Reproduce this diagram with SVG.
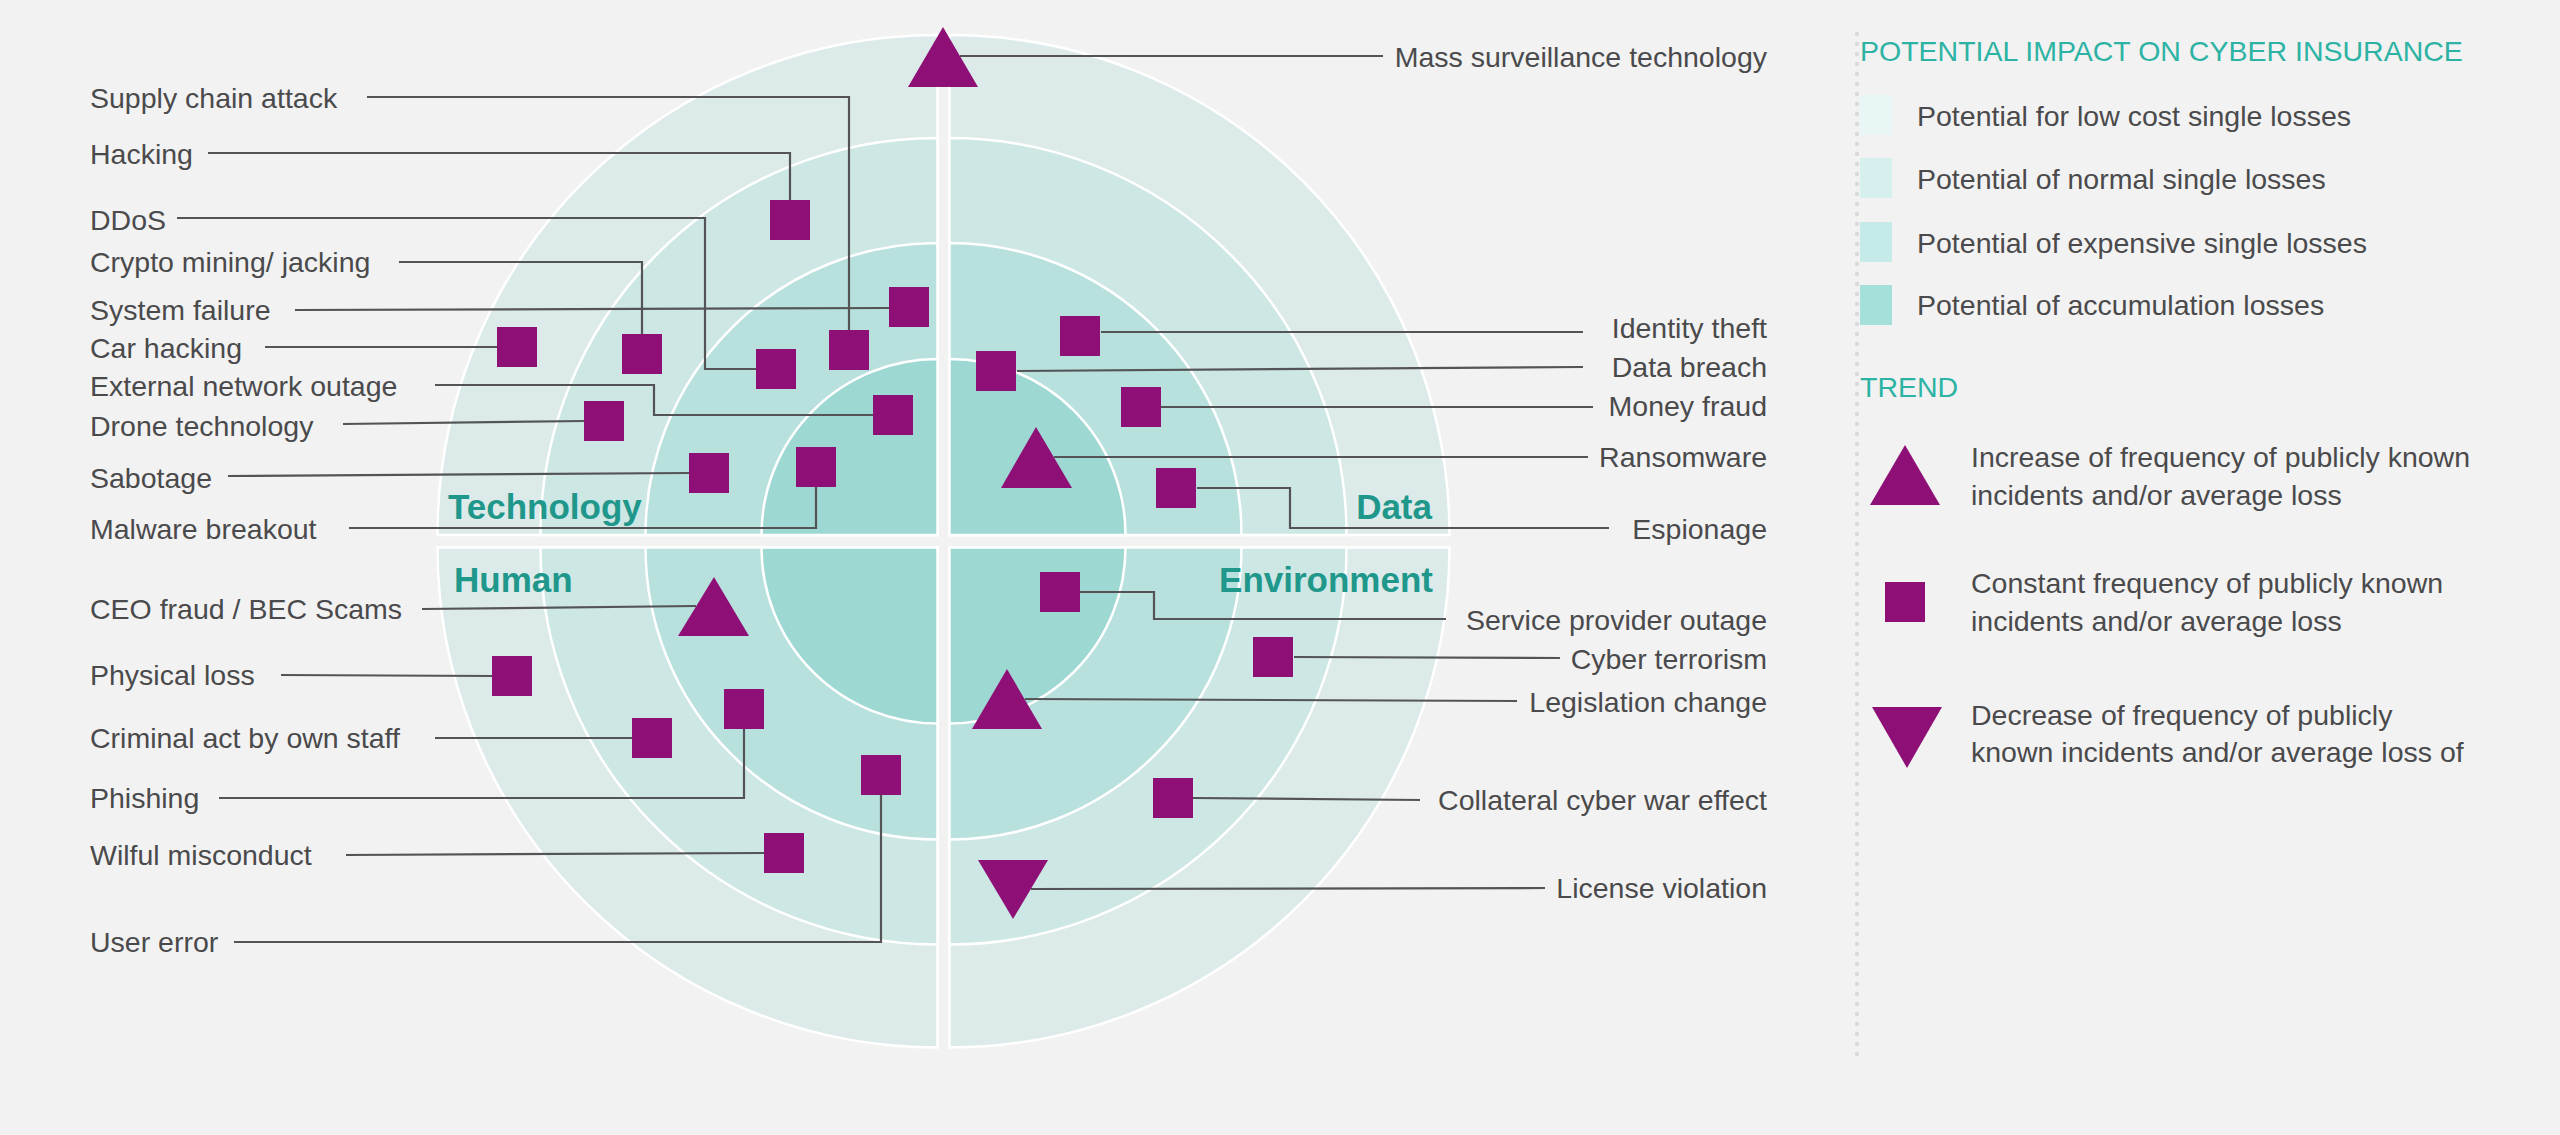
<svg xmlns="http://www.w3.org/2000/svg" width="2560" height="1135" viewBox="0 0 2560 1135">
<style>
.bg{fill:#f2f2f2}
.q{stroke:#ffffff;stroke-width:2.5}
.r1{fill:#dcebea}.r2{fill:#cde7e5}.r3{fill:#b8e1de}.r4{fill:#9dd8d3}
.mk{fill:#8e1077}
.cn{fill:none;stroke:#545456;stroke-width:2.2}
.lb{font-family:"Liberation Sans",Arial,Helvetica,sans-serif;font-size:28.5px;fill:#4a4a4c}
.end{text-anchor:end}
.cat{font-family:"Liberation Sans",Arial,Helvetica,sans-serif;font-size:35px;font-weight:bold;fill:#1f978b}
.hd{font-family:"Liberation Sans",Arial,Helvetica,sans-serif;font-size:28.5px;fill:#2db3a4}
</style>
<rect class="bg" x="0" y="0" width="2560" height="1135"/>
<g id="chart">
<path class="q r1" d="M937.5,535 H437.5 A500,500 0 0 1 937.5,35 Z"/>
<path class="q r2" d="M937.5,535 H540.5 A397,397 0 0 1 937.5,138 Z"/>
<path class="q r3" d="M937.5,535 H645.5 A292,292 0 0 1 937.5,243 Z"/>
<path class="q r4" d="M937.5,535 H761.5 A176,176 0 0 1 937.5,359 Z"/>
<path class="q r1" d="M949.5,535 V35 A500,500 0 0 1 1449.5,535 Z"/>
<path class="q r2" d="M949.5,535 V138 A397,397 0 0 1 1346.5,535 Z"/>
<path class="q r3" d="M949.5,535 V243 A292,292 0 0 1 1241.5,535 Z"/>
<path class="q r4" d="M949.5,535 V359 A176,176 0 0 1 1125.5,535 Z"/>
<path class="q r1" d="M949.5,547.5 H1449.5 A500,500 0 0 1 949.5,1047.5 Z"/>
<path class="q r2" d="M949.5,547.5 H1346.5 A397,397 0 0 1 949.5,944.5 Z"/>
<path class="q r3" d="M949.5,547.5 H1241.5 A292,292 0 0 1 949.5,839.5 Z"/>
<path class="q r4" d="M949.5,547.5 H1125.5 A176,176 0 0 1 949.5,723.5 Z"/>
<path class="q r1" d="M937.5,547.5 V1047.5 A500,500 0 0 1 437.5,547.5 Z"/>
<path class="q r2" d="M937.5,547.5 V944.5 A397,397 0 0 1 540.5,547.5 Z"/>
<path class="q r3" d="M937.5,547.5 V839.5 A292,292 0 0 1 645.5,547.5 Z"/>
<path class="q r4" d="M937.5,547.5 V723.5 A176,176 0 0 1 761.5,547.5 Z"/>
<text class="cat" x="448" y="519">Technology</text>
<text class="cat end" x="1432" y="519">Data</text>
<text class="cat" x="454" y="592">Human</text>
<text class="cat end" x="1433" y="592">Environment</text>
</g>
<g id="connectors">
<path class="cn" d="M367,97 H849 V330"/>
<path class="cn" d="M208,153 H790 V200"/>
<path class="cn" d="M177,218 H705 V369 H756"/>
<path class="cn" d="M399,262 H642 V334"/>
<path class="cn" d="M295,310 L889,308"/>
<path class="cn" d="M265,347 H497"/>
<path class="cn" d="M435,385 H654 V415 H873"/>
<path class="cn" d="M343,424 L584,421"/>
<path class="cn" d="M228,476 L689,473"/>
<path class="cn" d="M349,528 H816 V487"/>
<path class="cn" d="M960,56 H1383"/>
<path class="cn" d="M1101,332 H1583"/>
<path class="cn" d="M1017,371 L1583,367"/>
<path class="cn" d="M1161,407 H1593"/>
<path class="cn" d="M1054,457 H1588"/>
<path class="cn" d="M1197,488 H1290 V528 H1609"/>
<path class="cn" d="M1080,592 H1154 V619 H1446"/>
<path class="cn" d="M1294,657 L1560,658"/>
<path class="cn" d="M1025,699 L1517,701"/>
<path class="cn" d="M1193,798 L1420,800"/>
<path class="cn" d="M1031,889 L1545,888"/>
<path class="cn" d="M422,609 L696,606"/>
<path class="cn" d="M281,675 L492,676"/>
<path class="cn" d="M435,738 H632"/>
<path class="cn" d="M219,798 H744 V729"/>
<path class="cn" d="M346,855 L764,853"/>
<path class="cn" d="M234,942 H881 V795"/>
</g>
<g id="supply-chain-attack"><rect class="mk" x="829" y="330" width="40" height="40"/><text class="lb" x="90" y="108">Supply chain attack</text></g>
<g id="hacking"><rect class="mk" x="770" y="200" width="40" height="40"/><text class="lb" x="90" y="164">Hacking</text></g>
<g id="ddos"><rect class="mk" x="756" y="349" width="40" height="40"/><text class="lb" x="90" y="229.5">DDoS</text></g>
<g id="crypto-mining"><rect class="mk" x="622" y="334" width="40" height="40"/><text class="lb" x="90" y="272">Crypto mining/ jacking</text></g>
<g id="system-failure"><rect class="mk" x="889" y="287" width="40" height="40"/><text class="lb" x="90" y="320">System failure</text></g>
<g id="car-hacking"><rect class="mk" x="497" y="327" width="40" height="40"/><text class="lb" x="90" y="358">Car hacking</text></g>
<g id="external-network-outage"><rect class="mk" x="873" y="395" width="40" height="40"/><text class="lb" x="90" y="396">External network outage</text></g>
<g id="drone-technology"><rect class="mk" x="584" y="401" width="40" height="40"/><text class="lb" x="90" y="436">Drone technology</text></g>
<g id="sabotage"><rect class="mk" x="689" y="453" width="40" height="40"/><text class="lb" x="90" y="487.5">Sabotage</text></g>
<g id="malware-breakout"><rect class="mk" x="796" y="447" width="40" height="40"/><text class="lb" x="90" y="539">Malware breakout</text></g>
<g id="ceo-fraud"><polygon class="mk" points="714,577 749,636 678,636"/><text class="lb" x="90" y="619">CEO fraud / BEC Scams</text></g>
<g id="physical-loss"><rect class="mk" x="492" y="656" width="40" height="40"/><text class="lb" x="90" y="685">Physical loss</text></g>
<g id="criminal-act"><rect class="mk" x="632" y="718" width="40" height="40"/><text class="lb" x="90" y="748">Criminal act by own staff</text></g>
<g id="phishing"><rect class="mk" x="724" y="689" width="40" height="40"/><text class="lb" x="90" y="808">Phishing</text></g>
<g id="wilful-misconduct"><rect class="mk" x="764" y="833" width="40" height="40"/><text class="lb" x="90" y="865">Wilful misconduct</text></g>
<g id="user-error"><rect class="mk" x="861" y="755" width="40" height="40"/><text class="lb" x="90" y="952">User error</text></g>
<g id="mass-surveillance"><polygon class="mk" points="943,27 978,87 908,87"/><text class="lb end" x="1767" y="66.5">Mass surveillance technology</text></g>
<g id="identity-theft"><rect class="mk" x="1060" y="316" width="40" height="40"/><text class="lb end" x="1767" y="338">Identity theft</text></g>
<g id="data-breach"><rect class="mk" x="976" y="351" width="40" height="40"/><text class="lb end" x="1767" y="377">Data breach</text></g>
<g id="money-fraud"><rect class="mk" x="1121" y="387" width="40" height="40"/><text class="lb end" x="1767" y="416">Money fraud</text></g>
<g id="ransomware"><polygon class="mk" points="1036,427 1072,488 1001,488"/><text class="lb end" x="1767" y="467">Ransomware</text></g>
<g id="espionage"><rect class="mk" x="1156" y="468" width="40" height="40"/><text class="lb end" x="1767" y="538.5">Espionage</text></g>
<g id="service-provider-outage"><rect class="mk" x="1040" y="572" width="40" height="40"/><text class="lb end" x="1767" y="630">Service provider outage</text></g>
<g id="cyber-terrorism"><rect class="mk" x="1253" y="637" width="40" height="40"/><text class="lb end" x="1767" y="669">Cyber terrorism</text></g>
<g id="legislation-change"><polygon class="mk" points="1007,669 1042,729 972,729"/><text class="lb end" x="1767" y="712">Legislation change</text></g>
<g id="collateral-cyber-war"><rect class="mk" x="1153" y="778" width="40" height="40"/><text class="lb end" x="1767" y="810">Collateral cyber war effect</text></g>
<g id="license-violation"><polygon class="mk" points="978,860 1048,860 1013,919"/><text class="lb end" x="1767" y="898">License violation</text></g>
<g id="legend">
<line x1="1857" y1="34" x2="1857" y2="1055" stroke="#dadada" stroke-width="4.5" stroke-linecap="round" stroke-dasharray="0 10"/>
<text class="hd" x="1860" y="61">POTENTIAL IMPACT ON CYBER INSURANCE</text>
<rect x="1860" y="95" width="32" height="40" fill="#e8f6f5"/>
<text class="lb" x="1917" y="126">Potential for low cost single losses</text>
<rect x="1860" y="158" width="32" height="40" fill="#d5f0ee"/>
<text class="lb" x="1917" y="189">Potential of normal single losses</text>
<rect x="1860" y="222" width="32" height="40" fill="#c5ebe9"/>
<text class="lb" x="1917" y="253">Potential of expensive single losses</text>
<rect x="1860" y="285" width="32" height="40" fill="#a5e0db"/>
<text class="lb" x="1917" y="315">Potential of accumulation losses</text>
<text class="hd" x="1860" y="397">TREND</text>
<polygon class="mk" points="1905,445 1940,505 1870,505"/>
<text class="lb" x="1971" y="467">Increase of frequency of publicly known</text>
<text class="lb" x="1971" y="505">incidents and/or average loss</text>
<rect class="mk" x="1885" y="582" width="40" height="40"/>
<text class="lb" x="1971" y="592.5">Constant frequency of publicly known</text>
<text class="lb" x="1971" y="631">incidents and/or average loss</text>
<polygon class="mk" points="1872,707 1942,707 1907,768"/>
<text class="lb" x="1971" y="724.5">Decrease of frequency of publicly</text>
<text class="lb" x="1971" y="762">known incidents and/or average loss of</text>
</g>
</svg>
